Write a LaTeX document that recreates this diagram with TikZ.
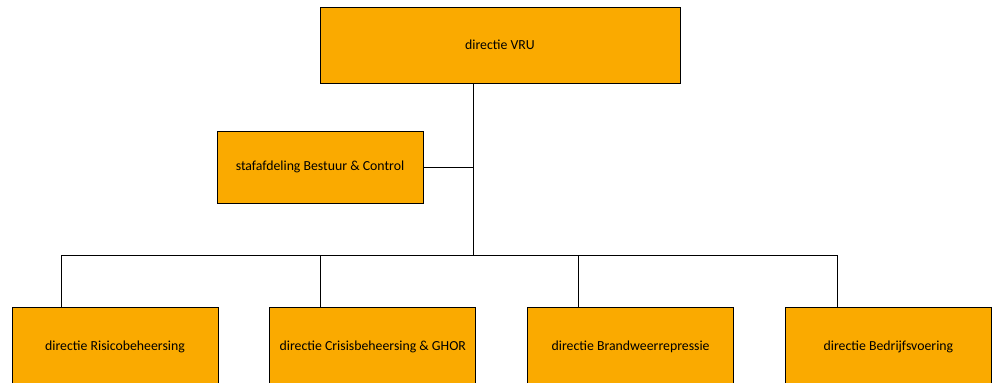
\documentclass[tikz,border=0pt]{standalone}
\usepackage{fontspec}
\setmainfont{Carlito}
\usepackage{xcolor}
\usepackage{tikz}
\usetikzlibrary{positioning}
\definecolor{oranje}{RGB}{250,170,0}

\begin{document}
\begin{tikzpicture}[x=1pt,y=1pt,
  thick,
  unit/.style={rectangle,draw,fill=oranje,minimum width=206pt,minimum height=80pt,inner sep=0pt},
  font=\fontsize{13.8}{16}\selectfont]
  \clip (0,0) rectangle (994,383);
  \node[unit,minimum width=360pt,minimum height=76pt] (vru) at (500,338) {directie VRU};
  \node[unit,minimum height=72pt] (staf) at (320,216) {stafafdeling Bestuur \& Control};
  \node[unit] (risico) at (115,36) {directie Risicobeheersing};
  \node[unit,right=51pt of risico] (crisis) {directie Crisisbeheersing \& GHOR};
  \node[unit,right=51pt of crisis] (brand) {directie Brandweerrepressie};
  \node[unit,right=51pt of brand] (bedrijf) {directie Bedrijfsvoering};
  \coordinate (bus) at (473,128);
  % lijnen
  \draw ([xshift=-27pt]vru.south) -- (bus);
  \draw (staf.east) -- (staf.east -| bus);
  \draw ([xshift=50pt]risico.north west) |- ([xshift=52pt]bedrijf.north west |- bus)
    -- ([xshift=52pt]bedrijf.north west);
  \draw ([xshift=51pt]crisis.north west) -- ([xshift=51pt]crisis.north west |- bus);
  \draw ([xshift=51pt]brand.north west) -- ([xshift=51pt]brand.north west |- bus);
\end{tikzpicture}
\end{document}
